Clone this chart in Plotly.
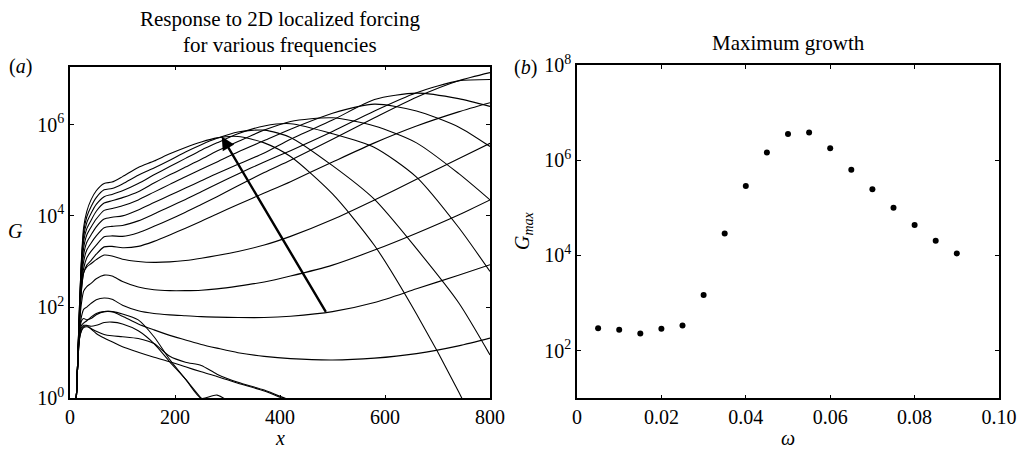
import plotly.graph_objects as go

# ---------------- data ----------------
# panel (a): streamwise positions and log10(G) for each forcing frequency curve
x_pos = [10, 14, 18, 22, 26, 32, 40, 50, 65, 80, 100, 130, 160, 190, 220, 250, 280, 320, 370, 420, 500, 580, 660, 740, 800]

logG_F1 = [-0.6, 0.6, 2.0, 3.1, 3.75, 4.1, 4.35, 4.55, 4.71, 4.74, 4.86, 5.06, 5.2, 5.36, 5.5, 5.62, 5.71, 5.74, 5.6, 5.3, 4.48, 3.35, 1.85, 0.15, -1.3]
logG_F2 = [-0.6, 0.6, 2.0, 3.05, 3.65, 3.98, 4.2, 4.4, 4.57, 4.6, 4.7, 4.89, 5.05, 5.22, 5.4, 5.56, 5.7, 5.84, 5.88, 5.72, 5.1, 4.36, 3.28, 2.1, 0.95]
logG_F3 = [-0.6, 0.6, 1.95, 3.0, 3.55, 3.85, 4.05, 4.25, 4.42, 4.47, 4.55, 4.71, 4.9, 5.08, 5.26, 5.44, 5.6, 5.8, 5.97, 6.02, 5.8, 5.5, 4.85, 3.75, 2.78]
logG_F4 = [-0.6, 0.6, 1.9, 2.9, 3.45, 3.72, 3.9, 4.1, 4.28, 4.33, 4.4, 4.53, 4.72, 4.9, 5.07, 5.24, 5.42, 5.63, 5.88, 6.07, 6.15, 5.97, 5.6, 4.93, 4.35]
logG_F5 = [-0.6, 0.6, 1.85, 2.8, 3.3, 3.58, 3.75, 3.93, 4.12, 4.16, 4.22, 4.35, 4.52, 4.69, 4.86, 5.02, 5.18, 5.4, 5.65, 5.9, 6.25, 6.45, 6.3, 5.95, 5.52]
logG_F6 = [-0.6, 0.6, 1.8, 2.7, 3.15, 3.42, 3.58, 3.76, 3.93, 3.97, 4.0, 4.13, 4.29, 4.45, 4.61, 4.77, 4.93, 5.13, 5.38, 5.68, 6.1, 6.55, 6.69, 6.57, 6.4]
logG_F7 = [-0.6, 0.6, 1.75, 2.6, 3.0, 3.25, 3.4, 3.56, 3.74, 3.77, 3.79, 3.89, 4.04, 4.2, 4.36, 4.53, 4.7, 4.92, 5.18, 5.43, 5.85, 6.3, 6.7, 6.96, 6.99]
logG_T = [-0.6, 0.6, 1.7, 2.5, 2.85, 3.08, 3.22, 3.36, 3.54, 3.56, 3.55, 3.63, 3.77, 3.92, 4.08, 4.25, 4.42, 4.66, 4.95, 5.22, 5.68, 6.15, 6.6, 6.96, 7.14]
logG_R5 = [-0.6, 0.55, 1.65, 2.4, 2.75, 2.92, 3.02, 3.16, 3.32, 3.33, 3.3, 3.33, 3.44, 3.58, 3.73, 3.88, 4.04, 4.25, 4.5, 4.75, 5.18, 5.6, 5.97, 6.28, 6.48]
logG_R4 = [-0.6, 0.55, 1.7, 2.4, 2.75, 2.88, 2.95, 3.04, 3.14, 3.12, 3.05, 3.0, 2.98, 2.99, 3.02, 3.07, 3.13, 3.22, 3.36, 3.55, 3.92, 4.35, 4.8, 5.25, 5.59]
logG_R3 = [-0.6, 0.55, 1.6, 2.1, 2.35, 2.45, 2.52, 2.62, 2.7, 2.68, 2.56, 2.44, 2.38, 2.36, 2.36, 2.37, 2.4, 2.46, 2.55, 2.68, 2.92, 3.25, 3.62, 4.02, 4.35]
logG_R2 = [-0.6, 0.55, 1.5, 1.8, 1.95, 2.0, 2.08, 2.16, 2.2, 2.17, 2.04, 1.92, 1.86, 1.83, 1.81, 1.79, 1.78, 1.77, 1.77, 1.8, 1.9, 2.1, 2.4, 2.7, 2.93]
logG_R1 = [-0.6, 0.55, 1.45, 1.7, 1.75, 1.72, 1.75, 1.83, 1.9, 1.9, 1.8, 1.63, 1.5, 1.38, 1.28, 1.18, 1.1, 1.0, 0.92, 0.87, 0.84, 0.88, 0.98, 1.15, 1.32]
logG_C4 = [-0.6, 0.55, 1.4, 1.6, 1.65, 1.7, 1.78, 1.86, 1.9, 1.9, 1.85, 1.72, 1.35, 0.85, 0.42, 0.0, 0.07, -0.2, -0.6, -1.0, -1.6, -2.2, -2.8, -3.4, -3.8]
logG_C3 = [-0.6, 0.55, 1.35, 1.55, 1.6, 1.6, 1.58, 1.6, 1.66, 1.67, 1.63, 1.48, 1.2, 0.8, 0.42, 0.0, -0.35, -0.8, -1.3, -1.8, -2.4, -3.0, -3.5, -4.0, -4.4]
logG_C2 = [-0.6, 0.55, 1.3, 1.48, 1.55, 1.57, 1.53, 1.47, 1.40, 1.37, 1.35, 1.31, 1.2, 0.92, 0.79, 0.72, 0.53, 0.35, 0.18, -0.05, -0.4, -0.7, -1.0, -1.3, -1.5]
logG_C1 = [-0.6, 0.55, 1.3, 1.5, 1.57, 1.59, 1.52, 1.42, 1.32, 1.24, 1.13, 1.01, 0.9, 0.8, 0.69, 0.58, 0.48, 0.33, 0.16, -0.07, -0.4, -0.7, -1.0, -1.3, -1.5]

curves = [logG_F1, logG_F2, logG_F3, logG_F4, logG_F5, logG_F6, logG_F7, logG_T, logG_R5,
          logG_R4, logG_R3, logG_R2, logG_R1, logG_C4, logG_C3, logG_C2, logG_C1]

arrow_tail = [489, 1.86]   # (x, log10 G)
arrow_head = [289, 5.74]

x_ticks = [0, 200, 400, 600, 800]
g_tick_exp = [0, 2, 4, 6]

# panel (b): maximum growth versus frequency
omega = [0.005, 0.01, 0.015, 0.02, 0.025, 0.03, 0.035, 0.04, 0.045, 0.05, 0.055, 0.06, 0.065, 0.07, 0.075, 0.08, 0.085, 0.09]
G_max = [295, 275, 229, 288, 339, 1480, 28800, 288000, 1.45e6, 3.55e6, 3.8e6, 1.78e6, 6.31e5, 2.45e5, 1.0e5, 4.36e4, 2.04e4, 1.1e4]
omega_ticks = [0, 0.02, 0.04, 0.06, 0.08, 0.10]
omega_tick_text = ["0", "0.02", "0.04", "0.06", "0.08", "0.10"]
gmax_tick_exp = [2, 4, 6, 8]

# ---------------- figure ----------------
W, H = 1027, 449
FONT = "Liberation Serif"
FS = 20

def px(xp):
    return xp / W

def py(yp):
    return 1 - yp / H

fig = go.Figure()

for c in curves:
    fig.add_trace(go.Scatter(
        x=x_pos, y=[10 ** v for v in c], mode="lines",
        line=dict(color="black", width=1.1, shape="spline", smoothing=0.7),
        xaxis="x", yaxis="y", showlegend=False, hoverinfo="skip"))

fig.add_trace(go.Scatter(
    x=omega, y=G_max, mode="markers",
    marker=dict(color="black", size=6),
    xaxis="x2", yaxis="y2", showlegend=False))

axis_common = dict(showline=True, linecolor="black", linewidth=1.5, mirror="ticks",
                   ticks="inside", ticklen=4, tickwidth=1, tickcolor="black",
                   showgrid=False, zeroline=False, automargin=False,
                   tickfont=dict(family=FONT, size=FS, color="black"))

fig.update_layout(
    width=W, height=H,
    margin=dict(l=0, r=0, t=0, b=0, autoexpand=False),
    paper_bgcolor="white", plot_bgcolor="white",
    xaxis=dict(domain=[px(70), px(490)], range=[0, 800], tickvals=x_ticks,
               anchor="y", **axis_common),
    yaxis=dict(domain=[py(398.3), py(66.7)], type="log", range=[0, 7.27],
               tickvals=[10 ** e for e in g_tick_exp],
               ticktext=[f"10<sup>{e}</sup>" for e in g_tick_exp],
               anchor="x", **axis_common),
    xaxis2=dict(domain=[px(577), px(999)], range=[0, 0.10], tickvals=omega_ticks,
                ticktext=omega_tick_text, anchor="y2", **axis_common),
    yaxis2=dict(domain=[py(398.3), py(65)], type="log", range=[1, 8],
                tickvals=[10 ** e for e in gmax_tick_exp],
                ticktext=[f"10<sup>{e}</sup>" for e in gmax_tick_exp],
                anchor="x2", **axis_common),
)

fig.add_annotation(x=arrow_head[0], y=arrow_head[1], ax=arrow_tail[0], ay=arrow_tail[1],
                   xref="x", yref="y", axref="x", ayref="y",
                   showarrow=True, arrowhead=2, arrowsize=1.1, arrowwidth=2.4,
                   arrowcolor="black", standoff=0, text="")

def label(text, xp, yp, size=FS, angle=0, xanchor="center"):
    fig.add_annotation(text=text, x=px(xp), y=py(yp), xref="paper", yref="paper",
                       showarrow=False, textangle=angle, xanchor=xanchor, yanchor="middle",
                       font=dict(family=FONT, size=size, color="black"))

label("Response to 2D localized forcing", 280, 19, size=21)
label("for various frequencies", 280, 45, size=21)
label("Maximum growth", 788, 43, size=21)
label("(<i>a</i>)", 20, 66)
label("(<i>b</i>)", 525, 67)
label("<i>x</i>", 280, 438)
label("<i>ω</i>", 788, 438)
label("<i>G</i>", 15, 231)
label("<i>G<sub>max</sub></i>", 524, 231, angle=-90)

fig.write_html("out.html")
